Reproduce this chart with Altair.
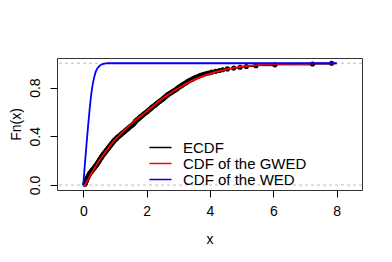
import altair as alt
import pandas as pd

# ECDF sample (sorted)
sample = [0.05, 0.06, 0.07, 0.08, 0.09, 0.10, 0.11, 0.12, 0.13, 0.15, 0.16, 0.17, 0.19, 0.20, 0.22,
          0.24, 0.26, 0.28, 0.30, 0.32, 0.34, 0.36, 0.38, 0.40, 0.42, 0.44, 0.45, 0.47, 0.49, 0.50,
          0.52, 0.53, 0.55, 0.57, 0.58, 0.60, 0.62, 0.64, 0.66, 0.68, 0.70, 0.72, 0.74, 0.76, 0.78,
          0.80, 0.82, 0.84, 0.86, 0.88, 0.90, 0.92, 0.94, 0.96, 0.98, 1.01, 1.04, 1.06, 1.09, 1.12,
          1.15, 1.18, 1.21, 1.24, 1.27, 1.30, 1.33, 1.36, 1.39, 1.42, 1.45, 1.48, 1.51, 1.55, 1.58,
          1.60, 1.62, 1.64, 1.66, 1.69, 1.72, 1.75, 1.78, 1.81, 1.84, 1.87, 1.90, 1.93, 1.97, 2.00,
          2.03, 2.06, 2.09, 2.12, 2.15, 2.18, 2.21, 2.25, 2.28, 2.31, 2.34, 2.37, 2.41, 2.44, 2.48,
          2.51, 2.54, 2.57, 2.60, 2.63, 2.66, 2.70, 2.74, 2.78, 2.82, 2.86, 2.90, 2.94, 2.97, 3.00,
          3.04, 3.08, 3.12, 3.16, 3.20, 3.24, 3.28, 3.32, 3.37, 3.42, 3.47, 3.52, 3.58, 3.64, 3.70,
          3.78, 3.86, 3.95, 4.05, 4.18, 4.30, 4.40, 4.55, 4.75, 4.95, 5.15, 5.45, 6.05, 7.24, 7.84]

gwed_x = [0.0, 0.05, 0.1, 0.25, 0.5, 0.75, 1.0, 1.5, 2.0, 2.5, 3.0, 3.5,
          4.0, 4.5, 5.0, 5.5, 6.0, 7.0, 8.0]
gwed_F = [0.0, 0.0, 0.02, 0.09, 0.2, 0.29, 0.37, 0.5, 0.605, 0.71, 0.795, 0.865,
          0.915, 0.95, 0.972, 0.985, 0.992, 0.997, 0.999]

wed_x = [0.0, 0.05, 0.1, 0.15, 0.2, 0.25, 0.3, 0.35, 0.4, 0.5, 0.6, 0.7,
         0.8, 1.0, 8.0]
wed_F = [0.0, 0.17, 0.33, 0.48, 0.62, 0.74, 0.83, 0.89, 0.935, 0.975, 0.992,
         0.998, 1.0, 1.0, 1.0]

series_names = ["ECDF", "CDF of the GWED", "CDF of the WED"]
series_colors = ["#000000", "#FF0000", "#0000FF"]
ref_lines = [0.0, 1.0]

x_ticks = [0, 2, 4, 6, 8]
y_ticks = [0.0, 0.2, 0.4, 0.6, 0.8, 1.0]

n = len(sample)
ecdf_df = pd.DataFrame({"x": sample, "F": [(i + 1) / n for i in range(n)],
                        "series": "ECDF"})
curves_df = pd.concat([
    pd.DataFrame({"x": gwed_x, "F": gwed_F, "series": series_names[1]}),
    pd.DataFrame({"x": wed_x, "F": wed_F, "series": series_names[2]}),
])
ref_df = pd.DataFrame({"h": ref_lines})

FONT = "Liberation Sans"

xscale = alt.Scale(domain=[-0.83, 8.8], nice=False, zero=False)
yscale = alt.Scale(domain=[-0.041, 1.043], nice=False, zero=False)

xaxis = alt.Axis(values=x_ticks, title="x", domain=False, grid=False,
                 tickSize=7, tickColor="#000", labelFontSize=14, labelFont=FONT,
                 labelColor="#000", labelPadding=7, titleFontSize=14,
                 titleFont=FONT, titleFontWeight="normal", titleColor="#000",
                 titleY=53, titleBaseline="alphabetic")
yaxis = alt.Axis(values=y_ticks, title="Fn(x)", domain=False, grid=False,
                 format=".1f",
                 labelExpr="indexof(['0.0','0.4','0.8'], datum.label) >= 0 ? datum.label : ''",
                 tickSize=7, tickColor="#000", labelFontSize=14, labelFont=FONT,
                 labelColor="#000", labelAngle=270, labelAlign="center",
                 labelBaseline="alphabetic", labelPadding=11,
                 titleFontSize=14, titleFont=FONT, titleFontWeight="normal",
                 titleColor="#000", titleAngle=270, titleX=-37,
                 titleBaseline="alphabetic")

color = alt.Color("series:N",
                  scale=alt.Scale(domain=series_names, range=series_colors),
                  sort=series_names,
                  legend=alt.Legend(title=None, orient="none", legendX=96,
                                    legendY=82, symbolType="M-1.7,0H1.7",
                                    symbolSize=169, symbolStrokeWidth=1.5,
                                    labelFontSize=15, labelFont=FONT,
                                    labelColor="#000", labelOffset=15,
                                    rowPadding=-1.5, padding=0))

ecdf_line = alt.Chart(ecdf_df).mark_line(interpolate="step-after",
                                         strokeWidth=1).encode(
    x=alt.X("x:Q", scale=xscale, axis=xaxis),
    y=alt.Y("F:Q", scale=yscale, axis=yaxis),
    color=color,
)
ecdf_pts = alt.Chart(ecdf_df).mark_circle(color="#000", size=26,
                                          opacity=1).encode(
    x=alt.X("x:Q", scale=xscale),
    y=alt.Y("F:Q", scale=yscale),
)
refs = alt.Chart(ref_df).mark_rule(color="#BEBEBE", strokeDash=[3, 3],
                                   strokeWidth=1).encode(
    y=alt.Y("h:Q", scale=yscale),
)
curves = alt.Chart(curves_df).mark_line(strokeWidth=1.8,
                                        interpolate="monotone").encode(
    x=alt.X("x:Q", scale=xscale),
    y=alt.Y("F:Q", scale=yscale),
    color=color,
    detail="series:N",
)

chart = alt.layer(ecdf_line, ecdf_pts, refs, curves).properties(
    width=305, height=132,
    autosize=alt.AutoSizeParams(type="none"),
    padding={"left": 49, "top": 50, "right": 22, "bottom": 55},
    background="white",
).configure_view(stroke="#333333", strokeWidth=1)

chart.save("out.html", embed_options={"renderer": "svg", "actions": False})
